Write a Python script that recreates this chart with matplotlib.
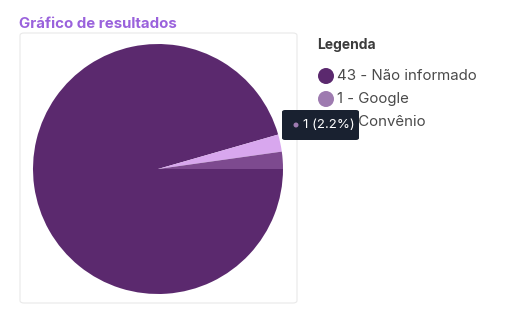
import matplotlib
matplotlib.use('Agg')
import matplotlib.pyplot as plt
import matplotlib.patches as patches

W, H = 513, 314

# data
labels = ['Não informado', 'Google', 'Convênio']
values = [43, 1, 1]
colors = ['#5b296e', '#d8a7ee', '#7d4a8f']
legend_colors = ['#5b296e', '#9e7bb0', '#7d4a8f']
tooltip_text = '1 (2.2%)'

plt.rcParams['font.family'] = ['Inter', 'DejaVu Sans']

fig = plt.figure(figsize=(W / 100, H / 100), dpi=100)


def fx(x):
    return x / W


def fy(y):
    return 1 - y / H


# card behind the pie
card = patches.FancyBboxPatch((fx(20), fy(303)), fx(277), 270 / H,
                              boxstyle='round,pad=0,rounding_size=0.008',
                              transform=fig.transFigure, facecolor='white',
                              edgecolor='#e9e9e9', linewidth=0.8, zorder=-1)
fig.patches.append(card)

fig.text(fx(19), fy(24), 'Gráfico de resultados', color='#9a62dc',
         fontsize=10.8, fontweight='bold', va='center', ha='left')

# pie
ax = fig.add_axes([fx(33), fy(294), 250 / W, 250 / H])
ax.set_zorder(2)
ax.pie(values, colors=colors, startangle=0, counterclock=False,
       wedgeprops=dict(linewidth=0))
ax.set_xlim(-1, 1)
ax.set_ylim(-1, 1)
ax.axis('off')

# legend
fig.text(fx(317), fy(45), 'Legenda', color='#3c3c3c', fontsize=10,
         fontweight='bold', va='center', ha='left')
for i, (lab, val) in enumerate(zip(labels, values)):
    y = 76 + i * 23
    fig.patches.append(patches.Ellipse((fx(326), fy(y)), 16 / W, 16 / H,
                                       transform=fig.transFigure,
                                       facecolor=legend_colors[i], edgecolor='none'))
    fig.text(fx(337), fy(y), f'{val} - {lab}', color='#4a4a4a', fontsize=10.8,
             va='center', ha='left')

# tooltip
tip = patches.FancyBboxPatch((fx(282), fy(140)), 77 / W, 30 / H,
                             boxstyle='round,pad=0,rounding_size=0.006',
                             transform=fig.transFigure, facecolor='#192130',
                             edgecolor='none', zorder=5)
fig.patches.append(tip)
fig.patches.append(patches.Ellipse((fx(296), fy(125)), 5 / W, 5 / H,
                                   transform=fig.transFigure,
                                   facecolor=legend_colors[1], edgecolor='none', zorder=6))
fig.text(fx(303), fy(125), tooltip_text, color='white', fontsize=9.5,
         va='center', ha='left', zorder=7)

fig.savefig('out.png', dpi=100)
